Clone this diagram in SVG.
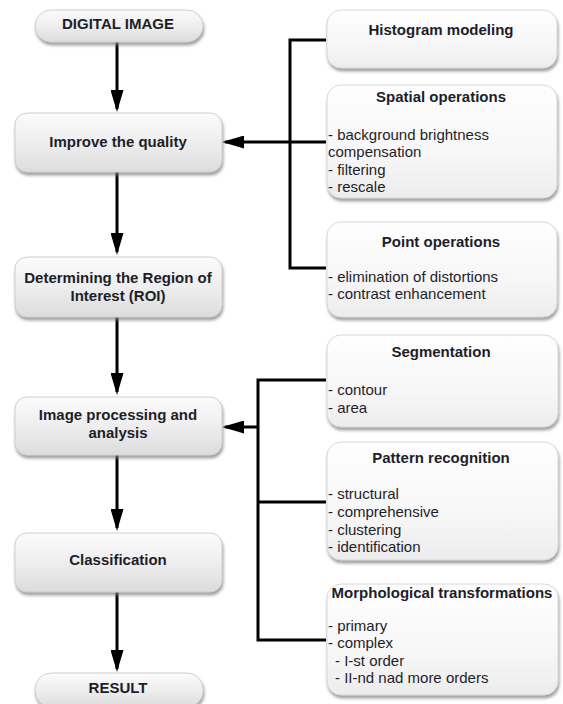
<svg xmlns="http://www.w3.org/2000/svg" width="563" height="704" viewBox="0 0 563 704">
<defs>
  <linearGradient id="gL" x1="0" y1="0" x2="0" y2="1">
    <stop offset="0" stop-color="#fbfbfb"/>
    <stop offset="0.5" stop-color="#eeeeee"/>
    <stop offset="1" stop-color="#dcdcdc"/>
  </linearGradient>
  <linearGradient id="gR" x1="0" y1="0" x2="0" y2="1">
    <stop offset="0" stop-color="#fefefe"/>
    <stop offset="0.6" stop-color="#f7f7f7"/>
    <stop offset="1" stop-color="#ececec"/>
  </linearGradient>
  <filter id="sh" x="-10%" y="-10%" width="125%" height="130%">
    <feDropShadow dx="1" dy="3" stdDeviation="1.8" flood-color="#7a7a7a" flood-opacity="0.7"/>
  </filter>
  <marker id="ah" markerUnits="userSpaceOnUse" markerWidth="22" markerHeight="13" refX="19" refY="6.5" orient="auto">
    <path d="M0,0 L22,6.5 L0,13 z" fill="#000"/>
  </marker>
</defs>
<style>
  .lb { fill: url(#gL); stroke: #cfcfcf; stroke-width: 1; filter: url(#sh); }
  .rb { fill: url(#gR); stroke: #d8d8d8; stroke-width: 1; filter: url(#sh); }
  text { font-family: "Liberation Sans", Arial, sans-serif; fill: #1e1e2a; font-size: 15px; }
  .t { font-weight: bold; text-anchor: middle; }
  .b { font-weight: normal; }
  .c { fill: none; stroke: #000; stroke-width: 3; }
  .a { fill: none; stroke: #000; stroke-width: 3; marker-end: url(#ah); }
</style>

<g id="connectors">
  <line class="a" x1="117" y1="42" x2="117" y2="109"/>
  <line class="a" x1="117" y1="172" x2="117" y2="252"/>
  <line class="a" x1="117" y1="317" x2="117" y2="392"/>
  <line class="a" x1="117" y1="455" x2="117" y2="528"/>
  <line class="a" x1="117" y1="592" x2="117" y2="669"/>
  <polyline class="c" points="326,40 290,40 290,268 326,268"/>
  <line class="c" x1="290" y1="142" x2="326" y2="142"/>
  <line class="a" x1="290" y1="142" x2="225" y2="142"/>
  <polyline class="c" points="326,380 258,380 258,640 326,640"/>
  <line class="c" x1="258" y1="502" x2="326" y2="502"/>
  <line class="a" x1="258" y1="427" x2="225" y2="427"/>
</g>

<g id="digital-image">
  <rect class="lb" x="35" y="10" width="168" height="32" rx="16"/>
  <text class="t" x="118" y="29">DIGITAL IMAGE</text>
</g>
<g id="improve-quality">
  <rect class="lb" x="15" y="113" width="207" height="59" rx="12"/>
  <text class="t" x="118" y="147">Improve the quality</text>
</g>
<g id="roi">
  <rect class="lb" x="15" y="257" width="207" height="60" rx="12"/>
  <text class="t" x="118" y="283">Determining the Region of</text>
  <text class="t" x="118" y="301">Interest (ROI)</text>
</g>
<g id="image-processing">
  <rect class="lb" x="15" y="397" width="207" height="58" rx="12"/>
  <text class="t" x="118" y="420">Image processing and</text>
  <text class="t" x="118" y="438">analysis</text>
</g>
<g id="classification">
  <rect class="lb" x="15" y="533" width="207" height="59" rx="12"/>
  <text class="t" x="118" y="565">Classification</text>
</g>
<g id="result">
  <rect class="lb" x="35" y="673" width="168" height="34" rx="16"/>
  <text class="t" x="118" y="693">RESULT</text>
</g>

<g id="histogram">
  <rect class="rb" x="327" y="10" width="230" height="58" rx="14"/>
  <text class="t" x="441" y="35">Histogram modeling</text>
</g>
<g id="spatial">
  <rect class="rb" x="327" y="85" width="230" height="113" rx="14"/>
  <text class="t" x="441" y="102">Spatial operations</text>
  <text class="b" x="328" y="140">- background brightness</text>
  <text class="b" x="328" y="157">compensation</text>
  <text class="b" x="328" y="175">- filtering</text>
  <text class="b" x="328" y="192">- rescale</text>
</g>
<g id="point">
  <rect class="rb" x="327" y="222" width="230" height="95" rx="14"/>
  <text class="t" x="441" y="247">Point operations</text>
  <text class="b" x="328" y="282">- elimination of distortions</text>
  <text class="b" x="328" y="299">- contrast enhancement</text>
</g>
<g id="segmentation">
  <rect class="rb" x="327" y="335" width="231" height="92" rx="14"/>
  <text class="t" x="441" y="357">Segmentation</text>
  <text class="b" x="328" y="395">- contour</text>
  <text class="b" x="328" y="413">- area</text>
</g>
<g id="pattern">
  <rect class="rb" x="327" y="442" width="231" height="118" rx="14"/>
  <text class="t" x="441" y="463">Pattern recognition</text>
  <text class="b" x="328" y="499">- structural</text>
  <text class="b" x="328" y="517">- comprehensive</text>
  <text class="b" x="328" y="535">- clustering</text>
  <text class="b" x="328" y="552">- identification</text>
</g>
<g id="morphological">
  <rect class="rb" x="327" y="584" width="231" height="111" rx="14"/>
  <text class="t" x="442" y="598">Morphological transformations</text>
  <text class="b" x="328" y="631">- primary</text>
  <text class="b" x="328" y="648">- complex</text>
  <text class="b" x="335" y="666">- I-st order</text>
  <text class="b" x="335" y="683">- II-nd nad more orders</text>
</g>
</svg>
